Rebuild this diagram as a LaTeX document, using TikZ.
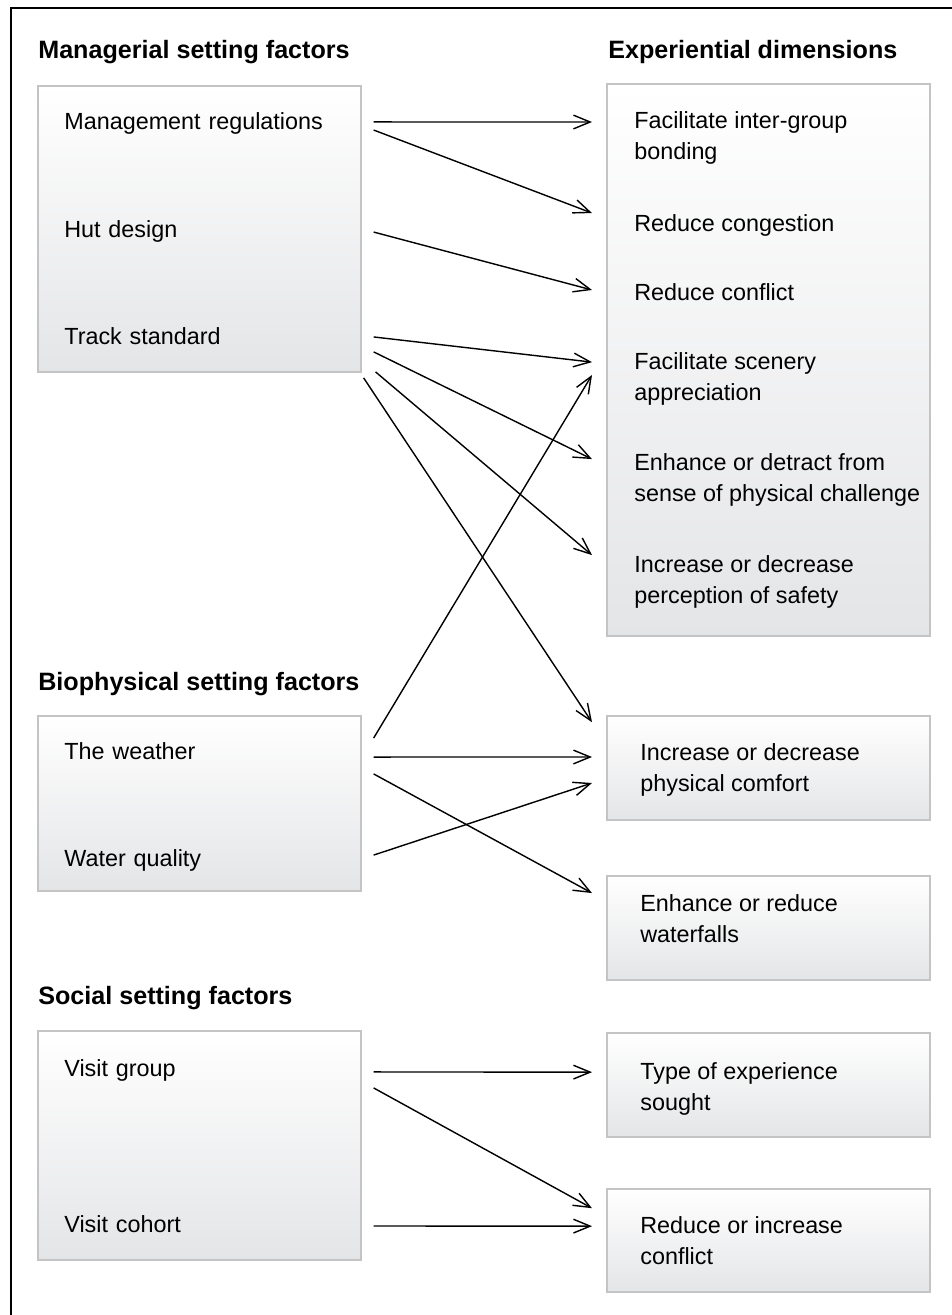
\documentclass[tikz,border=0pt]{standalone}
\usepackage{fontspec}
\setmainfont{Liberation Sans}
\usetikzlibrary{arrows.meta}

\definecolor{boxedge}{RGB}{196,196,196}
\definecolor{boxfoot}{RGB}{228,229,231}

\tikzset{
  heading/.style={anchor=base west, inner sep=0pt,
    font=\fontsize{14.3}{17.6}\selectfont\bfseries},
  factorbox/.style={draw=boxedge, line width=0.6pt, top color=white, bottom color=boxfoot},
  cause/.style={anchor=west, inner sep=0pt, text width=6.18cm, align=left,
    font=\fontsize{13.3}{17.6}\selectfont},
  effect/.style={anchor=west, inner xsep=0.84cm, inner ysep=0pt, align=left,
    font=\fontsize{13.3}{17.6}\selectfont},
  link/.style={-{Straight Barb[length=9.5pt,width=7.8pt]}, line width=0.8pt},
}

\begin{document}
\begin{tikzpicture}[x=0.02cm, y=-0.02cm]
  \useasboundingbox (0,0) rectangle (952,1315);
  \draw[line width=0.7pt] (11,1315) -- (11,8) -- (952,8);

  % headings
  \node[heading] (manhead) at (38,58) {Managerial setting factors};
  \node[heading] (exphead) at (608,58) {Experiential dimensions};
  \node[heading] (biohead) at (38,690) {Biophysical setting factors};
  \node[heading] (sochead) at (38,1004) {Social setting factors};

  % boxes
  \path[factorbox] (38,86) rectangle (361,372);
  \path[factorbox] (38,716) rectangle (361,891);
  \path[factorbox] (38,1031) rectangle (361,1260);
  \path[factorbox] (607,84) rectangle (930,636);
  \path[factorbox] (607,716) rectangle (930,820);
  \path[factorbox] (607,876) rectangle (930,980);
  \path[factorbox] (607,1033) rectangle (930,1137);
  \path[factorbox] (607,1189) rectangle (930,1292);

  % setting factors
  \node[cause] (mreg) at (64,123) {\strut Management regulations};
  \node[cause] (hut) at (64,231) {\strut Hut design};
  \node[cause] (track) at (64,338) {\strut Track standard};
  \node[cause] (weather) at (64,753) {\strut The weather};
  \node[cause] (water) at (64,860) {\strut Water quality};
  \node[cause] (vgroup) at (64,1070) {\strut Visit group};
  \node[cause] (vcohort) at (64,1226) {\strut Visit cohort};

  % experiential dimensions
  \node[effect] (bond) at (592,138) {\strut Facilitate inter-group\\bonding\strut};
  \node[effect] (cong) at (592,225) {\strut Reduce congestion};
  \node[effect] (confl) at (592,294) {\strut Reduce conflict};
  \node[effect] (scen) at (592,379) {\strut Facilitate scenery\\appreciation\strut};
  \node[effect] (chal) at (592,480) {\strut Enhance or detract from\\sense of physical challenge\strut};
  \node[effect] (safe) at (592,582) {\strut Increase or decrease\\perception of safety\strut};
  \node[effect, inner xsep=0.96cm] (comf) at (592,770) {\strut Increase or decrease\\physical comfort\strut};
  \node[effect, inner xsep=0.96cm] (fall) at (592,921) {\strut Enhance or reduce\\waterfalls\strut};
  \node[effect, inner xsep=0.96cm] (sought) at (592,1089) {\strut Type of experience\\sought\strut};
  \node[effect, inner xsep=0.96cm] (riconf) at (592,1243) {\strut Reduce or increase\\conflict\strut};

  % links
  \draw[link] ([yshift=0.6pt]mreg.east) -- ([yshift=9.1pt]bond.west);
  \draw[link] ([yshift=-4pt]mreg.east) -- ([yshift=6.8pt]cong.west);
  \draw[link] ([yshift=-0.6pt]hut.east) -- ([yshift=2.3pt]confl.west);
  \draw[link] ([yshift=0.6pt]track.east) -- ([yshift=9.6pt]scen.west);
  \draw[link] ([yshift=-7.9pt]track.east) -- ([yshift=11.9pt]chal.west);
  \draw[link] ([xshift=1.1pt,yshift=-19.3pt]track.east) -- ([yshift=15.3pt]safe.west);
  \draw[link] ([xshift=-5.7pt,yshift=-22.7pt]track.east) -- ([yshift=27.2pt]comf.west);
  \draw[link] ([yshift=8.5pt]weather.east) -- ([yshift=2.3pt]scen.west);
  \draw[link] ([yshift=-2.3pt]weather.east) -- ([yshift=7.4pt]comf.west);
  \draw[link] ([yshift=-11.9pt]weather.east) -- ([yshift=15.9pt]fall.west);
  \draw[link] ([yshift=2.8pt]water.east) -- ([yshift=-7.4pt]comf.west);
  \draw[link] ([yshift=-1.1pt]vgroup.east) -- ([yshift=9.6pt]sought.west);
  \draw[link] ([yshift=-10.2pt]vgroup.east) -- ([yshift=19.8pt]riconf.west);
  \draw[link] (vcohort.east) -- ([yshift=9.6pt]riconf.west);
\end{tikzpicture}
\end{document}
